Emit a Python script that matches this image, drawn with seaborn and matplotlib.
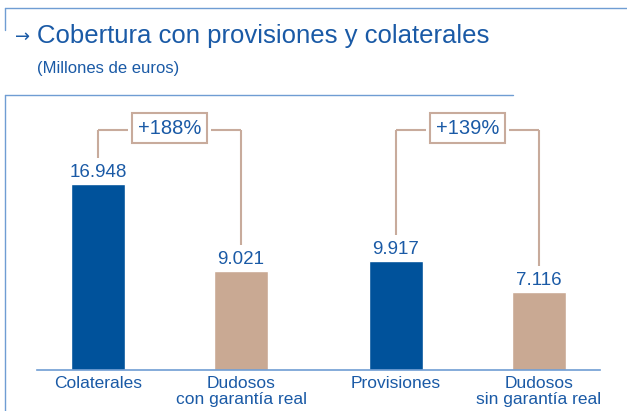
import pandas as pd
import matplotlib.pyplot as plt
import seaborn as sns
from matplotlib.patches import Rectangle
from matplotlib.lines import Line2D

# datos
categorias = ["Colaterales", "Dudosos\ncon garantía real", "Provisiones", "Dudosos\nsin garantía real"]
valores = [16948, 9021, 9917, 7116]
etiquetas = ["16.948", "9.021", "9.917", "7.116"]
pares = [(0, 1), (2, 3)]
variaciones = ["+188%", "+139%"]

AZUL = "#00529b"
TAN = "#c9a993"
TEXTO = "#1a5aa6"
LINEA = "#6f9dd3"
CORCHETE = "#c8ab9c"

# posicion de cada barra (los pares van un poco mas juntos)
pos = [0, 0.973, 2.027, 3]

sns.set_theme(style="white")
plt.rcParams["font.family"] = ["Liberation Sans", "DejaVu Sans"]

df = pd.DataFrame({"categoria": categorias, "valor": valores})

fig = plt.figure(figsize=(6.27, 4.11), dpi=100)
W, H = 627, 411
ax = fig.add_axes([37 / W, (H - 370) / H, (600 - 37) / W, 270 / H])

sns.barplot(data=df, x="categoria", y="valor", hue="categoria",
            palette=[AZUL, TAN, AZUL, TAN], width=0.367, legend=False,
            saturation=1, ax=ax)

for i, p in enumerate(ax.patches[:4]):
    p.set_x(p.get_x() + pos[i] - i)

ymax = 270 * 16948 / 186
ax.set_ylim(0, ymax)
ax.set_xlim(-0.415, 3.415)
ax.set_xlabel("")
ax.set_ylabel("")
ax.set_yticks([])
ax.set_xticks(pos, categorias)
for s in ["top", "right", "left"]:
    ax.spines[s].set_visible(False)
ax.spines["bottom"].set_color(LINEA)
ax.spines["bottom"].set_linewidth(1.2)
ax.tick_params(axis="x", length=0, pad=4, labelsize=12.5, labelcolor=TEXTO)
for t in ax.get_xticklabels():
    t.set_linespacing(1.15)

# etiquetas de valor
for i, (v, lab) in enumerate(zip(valores, etiquetas)):
    ax.annotate(lab, (pos[i], v), xytext=(0, 5), textcoords="offset points",
                ha="center", va="baseline", fontsize=13.5, color=TEXTO)

# corchetes con variacion
y_br = ymax * 0.889
half_box = 0.255
gap = 0.03
for (a, b), txt in zip(pares, variaciones):
    xa, xb = pos[a], pos[b]
    mid = (xa + xb) / 2
    for x0, x1 in [(xa, mid - half_box - gap), (mid + half_box + gap, xb)]:
        ax.plot([x0, x1], [y_br, y_br], color=CORCHETE, lw=1.5, solid_capstyle="butt")
    for k in (a, b):
        ax.plot([pos[k], pos[k]], [valores[k] + 2350, y_br], color=CORCHETE, lw=1.5,
                solid_capstyle="butt")
    bh = 30 * 16948 / 186
    ax.add_patch(Rectangle((mid - half_box, y_br - bh / 2 + 150), 2 * half_box, bh,
                           facecolor="white", edgecolor=CORCHETE, lw=1.5, clip_on=False))
    ax.text(mid, y_br + 150, txt, ha="center", va="center", fontsize=14.5,
            color=TEXTO)

# marco y titulos
def linea(x0, y0, x1, y1):
    fig.add_artist(Line2D([x0 / W, x1 / W], [1 - y0 / H, 1 - y1 / H],
                          color=LINEA, lw=1))

linea(5, 8, 627, 8)
linea(5, 8, 5, 30)
linea(5, 95, 513, 95)
linea(5, 95, 5, 411)

fig.text(15 / W, 1 - 37 / H, "→", fontsize=13, color=TEXTO, va="center",
         family=["DejaVu Sans"])
fig.text(37 / W, 1 - 36 / H, "Cobertura con provisiones y colaterales",
         fontsize=18.5, color=TEXTO, va="center")
fig.text(37 / W, 1 - 69 / H, "(Millones de euros)", fontsize=12, color=TEXTO,
         va="center")

fig.savefig("out.png", dpi=100)
